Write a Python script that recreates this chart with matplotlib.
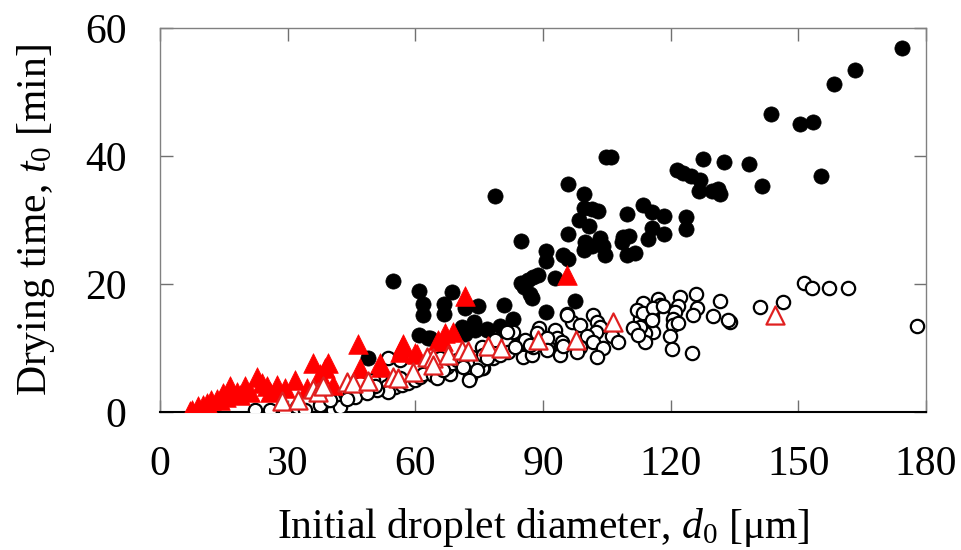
import matplotlib
matplotlib.use("Agg")
import matplotlib.pyplot as plt

# black filled circles (d0 [um], t0 [min])
filled_d = [174.3, 163.4, 158.3, 143.5, 150.4, 153.5, 155.3, 127.7, 132.6, 138.4,
            141.4, 121.4, 123.0, 124.8, 126.8, 126.6, 129.6, 131.2, 131.6, 104.7,
            105.9, 95.8, 99.7, 99.7, 101.6, 102.9, 98.4, 100.7, 109.7, 113.6,
            115.5, 118.5, 123.6, 123.6, 115.5, 114.7, 118.5, 95.8, 108.9, 110.3,
            108.5, 109.7, 111.6, 99.9, 99.7, 101.6, 103.4, 104.2, 104.6, 94.8,
            95.8, 78.7, 84.8, 90.7, 90.7, 88.9, 87.7, 84.8, 85.6, 86.9,
            87.3, 86.5, 92.9, 97.6, 90.7, 80.8, 82.9, 79.9, 76.9, 74.8,
            71.7, 68.7, 66.8, 66.8, 61.7, 61.7, 60.9, 54.8, 73.7, 74.0,
            76.8, 70.9, 71.7, 63.4, 60.9, 63.0, 48.9]
filled_t = [56.8, 53.5, 51.3, 46.5, 45.0, 45.3, 36.8, 39.6, 39.0, 38.8,
            35.3, 37.8, 37.3, 36.8, 36.3, 34.5, 34.5, 34.9, 34.1, 39.8,
            39.8, 35.7, 34.1, 31.8, 31.7, 31.4, 30.0, 29.0, 30.9, 32.3,
            31.3, 30.7, 30.5, 28.6, 28.8, 27.1, 27.8, 27.8, 27.4, 27.5,
            26.5, 24.5, 24.9, 26.6, 25.3, 26.0, 27.2, 25.9, 24.6, 24.5,
            23.9, 33.8, 26.7, 25.2, 23.6, 21.4, 21.1, 20.2, 19.6, 18.5,
            17.8, 20.6, 21.0, 17.4, 15.6, 16.7, 14.6, 13.4, 12.9, 16.6,
            16.2, 18.7, 16.9, 15.3, 16.9, 15.2, 18.9, 20.4, 14.0, 12.8,
            12.8, 13.3, 12.2, 11.6, 12.0, 11.6, 8.4]

# open circles
open_d = [151.4, 153.1, 157.2, 161.6, 146.5, 141.1, 131.7, 129.9, 134.0, 177.8,
          113.6, 117.1, 117.5, 115.9, 122.2, 121.8, 121.0, 120.6, 120.6, 125.9,
          126.1, 125.3, 115.5, 115.9, 114.0, 114.0, 119.8, 120.2, 124.9, 112.8,
          112.8, 112.0, 113.6, 95.7, 96.7, 98.8, 101.8, 102.6, 103.4, 102.4,
          100.3, 101.8, 104.2, 102.6, 106.1, 107.7, 111.2, 112.4, 89.1, 92.8,
          93.2, 94.4, 94.0, 91.2, 83.0, 83.8, 85.4, 87.3, 87.7, 81.8,
          78.3, 76.0, 98.7, 97.9, 81.5, 85.8, 86.9, 88.5, 90.9, 94.8,
          90.9, 83.4, 79.9, 78.7, 75.6, 75.2, 73.2, 72.1, 70.5, 68.1,
          65.8, 72.8, 68.1, 95.6, 53.6, 56.4, 51.7, 50.1, 48.6, 53.3,
          55.2, 53.6, 50.9, 49.3, 56.8, 58.3, 59.9, 61.1, 61.9, 64.2,
          66.2, 67.4, 68.5, 69.7, 71.3, 73.6, 75.6, 75.2, 76.0, 76.8,
          74.4, 41.1, 40.7, 39.2, 42.3, 43.5, 44.6, 45.4, 45.8, 42.3,
          37.6, 47.0, 72.7, 22.3, 25.8, 29.4, 32.1, 34.1, 37.6, 39.9,
          43.9, 50.5, 48.6, 54.8, 56.4, 65.0, 66.6, 71.3, 115.8, 118.3,
          133.5, 121.8, 115.5]
open_t = [20.1, 19.4, 19.3, 19.4, 17.2, 16.4, 17.4, 15.0, 14.1, 13.4,
          17.0, 17.6, 16.7, 16.0, 18.0, 16.5, 15.7, 14.6, 13.6, 18.4,
          16.2, 15.2, 14.9, 12.5, 12.3, 11.0, 11.8, 9.8, 9.2, 14.6,
          13.3, 15.9, 15.4, 15.3, 14.0, 13.6, 15.2, 14.1, 13.3, 12.5,
          11.8, 11.0, 10.0, 8.6, 11.8, 11.0, 13.1, 12.0, 13.1, 12.8,
          11.5, 11.0, 8.9, 10.2, 12.5, 10.5, 8.6, 8.9, 10.2, 9.4,
          8.4, 6.8, 10.2, 9.4, 12.5, 11.3, 10.5, 12.3, 11.5, 10.3,
          9.7, 10.2, 8.9, 11.3, 10.2, 8.4, 8.6, 7.3, 8.1, 7.6,
          8.4, 5.5, 6.0, 15.2, 8.4, 8.1, 5.6, 5.0, 4.2, 4.1,
          3.9, 3.2, 3.5, 3.7, 4.2, 4.6, 5.0, 5.4, 6.0, 5.8,
          6.6, 7.1, 7.6, 8.1, 7.9, 7.3, 6.8, 7.9, 8.9, 8.4,
          6.6, 1.4, 0.3, 1.9, 2.1, 2.9, 3.4, 4.0, 2.4, 0.8,
          1.9, 4.5, 5.0, 0.3, 0.3, 0.2, 0.8, 0.3, 1.1, 1.9,
          2.1, 4.0, 2.9, 5.0, 5.3, 5.3, 6.6, 7.1, 16.2, 16.5,
          14.4, 13.9, 14.4]

# red filled triangles
tri_d = [7.0, 7.5, 9.0, 10.1, 11.0, 12.1, 13.3, 14.1, 14.9, 15.5,
         16.4, 18.0, 18.8, 20.0, 21.1, 22.7, 23.9, 25.1, 25.8, 27.4,
         29.4, 31.7, 34.5, 36.0, 37.6, 38.8, 39.5, 40.7, 46.6, 47.0,
         51.7, 51.9, 56.4, 56.8, 57.2, 59.9, 60.3, 65.4, 66.6, 67.0,
         68.9, 71.7, 95.6]
tri_t = [0.2, 0.3, 0.9, 1.1, 1.4, 1.9, 2.1, 1.9, 3.0, 2.3,
         4.0, 3.2, 2.7, 4.0, 3.1, 5.5, 4.5, 4.0, 3.1, 4.2,
         3.8, 5.0, 3.7, 7.6, 6.0, 6.9, 7.7, 4.2, 10.7, 6.8,
         7.6, 7.0, 9.4, 10.2, 10.7, 9.2, 9.1, 11.3, 11.1, 12.3,
         12.5, 18.1, 21.4]

# red open triangles
otri_d = [28.6, 32.5, 36.0, 37.2, 38.4, 43.9, 45.4, 48.9, 54.8, 56.0,
          59.5, 62.7, 64.2, 64.2, 67.7, 70.9, 72.4, 77.1, 80.1, 88.9,
          97.7, 106.5, 144.5]
otri_t = [1.7, 1.9, 3.6, 3.2, 4.0, 4.7, 4.5, 4.8, 5.5, 5.3,
          6.3, 8.6, 8.4, 7.3, 8.9, 9.7, 9.5, 10.3, 10.0, 11.3,
          11.2, 14.1, 15.2]

plt.rcParams['font.family'] = ['Liberation Serif', 'DejaVu Serif']
plt.rcParams['mathtext.fontset'] = 'custom'
plt.rcParams['mathtext.rm'] = 'Liberation Serif'
plt.rcParams['mathtext.it'] = 'Liberation Serif:italic'

fig = plt.figure(figsize=(9.62, 5.5), dpi=100)
ax = fig.add_axes([0.1663, 0.2509, 0.7963, 0.6982])

ax.scatter(filled_d, filled_t, s=120, c='black', edgecolors='black', linewidths=0.5, zorder=2)
ax.scatter(open_d, open_t, s=92, facecolors='white', edgecolors='black', linewidths=1.6, zorder=3)
ax.scatter(tri_d, tri_t, s=200, marker='^', c='red', edgecolors='red', linewidths=0.5, zorder=4)
ax.scatter(otri_d, otri_t, s=170, marker='^', facecolors='white', edgecolors='#e02020', linewidths=1.6, zorder=5)

ax.set_xlim(0, 180)
ax.set_ylim(0, 60)
ax.set_xticks([0, 30, 60, 90, 120, 150, 180])
ax.set_yticks([0, 20, 40, 60])
ax.tick_params(direction='in', length=9, width=1, color='#707070',
               top=True, right=True, labelsize=30)
ax.tick_params(axis='x', pad=24)
ax.tick_params(axis='y', pad=24)

for side in ['left', 'top', 'right']:
    ax.spines[side].set_color('#808080')
    ax.spines[side].set_linewidth(1)
ax.spines['bottom'].set_color('black')
ax.spines['bottom'].set_linewidth(1.5)

ax.set_xlabel('Initial droplet diameter, $d_0$ [μm]', fontsize=30, labelpad=16)
ax.set_ylabel('Drying time, $t_0$ [min]', fontsize=30, labelpad=20)

fig.savefig('out.png', dpi=100)
